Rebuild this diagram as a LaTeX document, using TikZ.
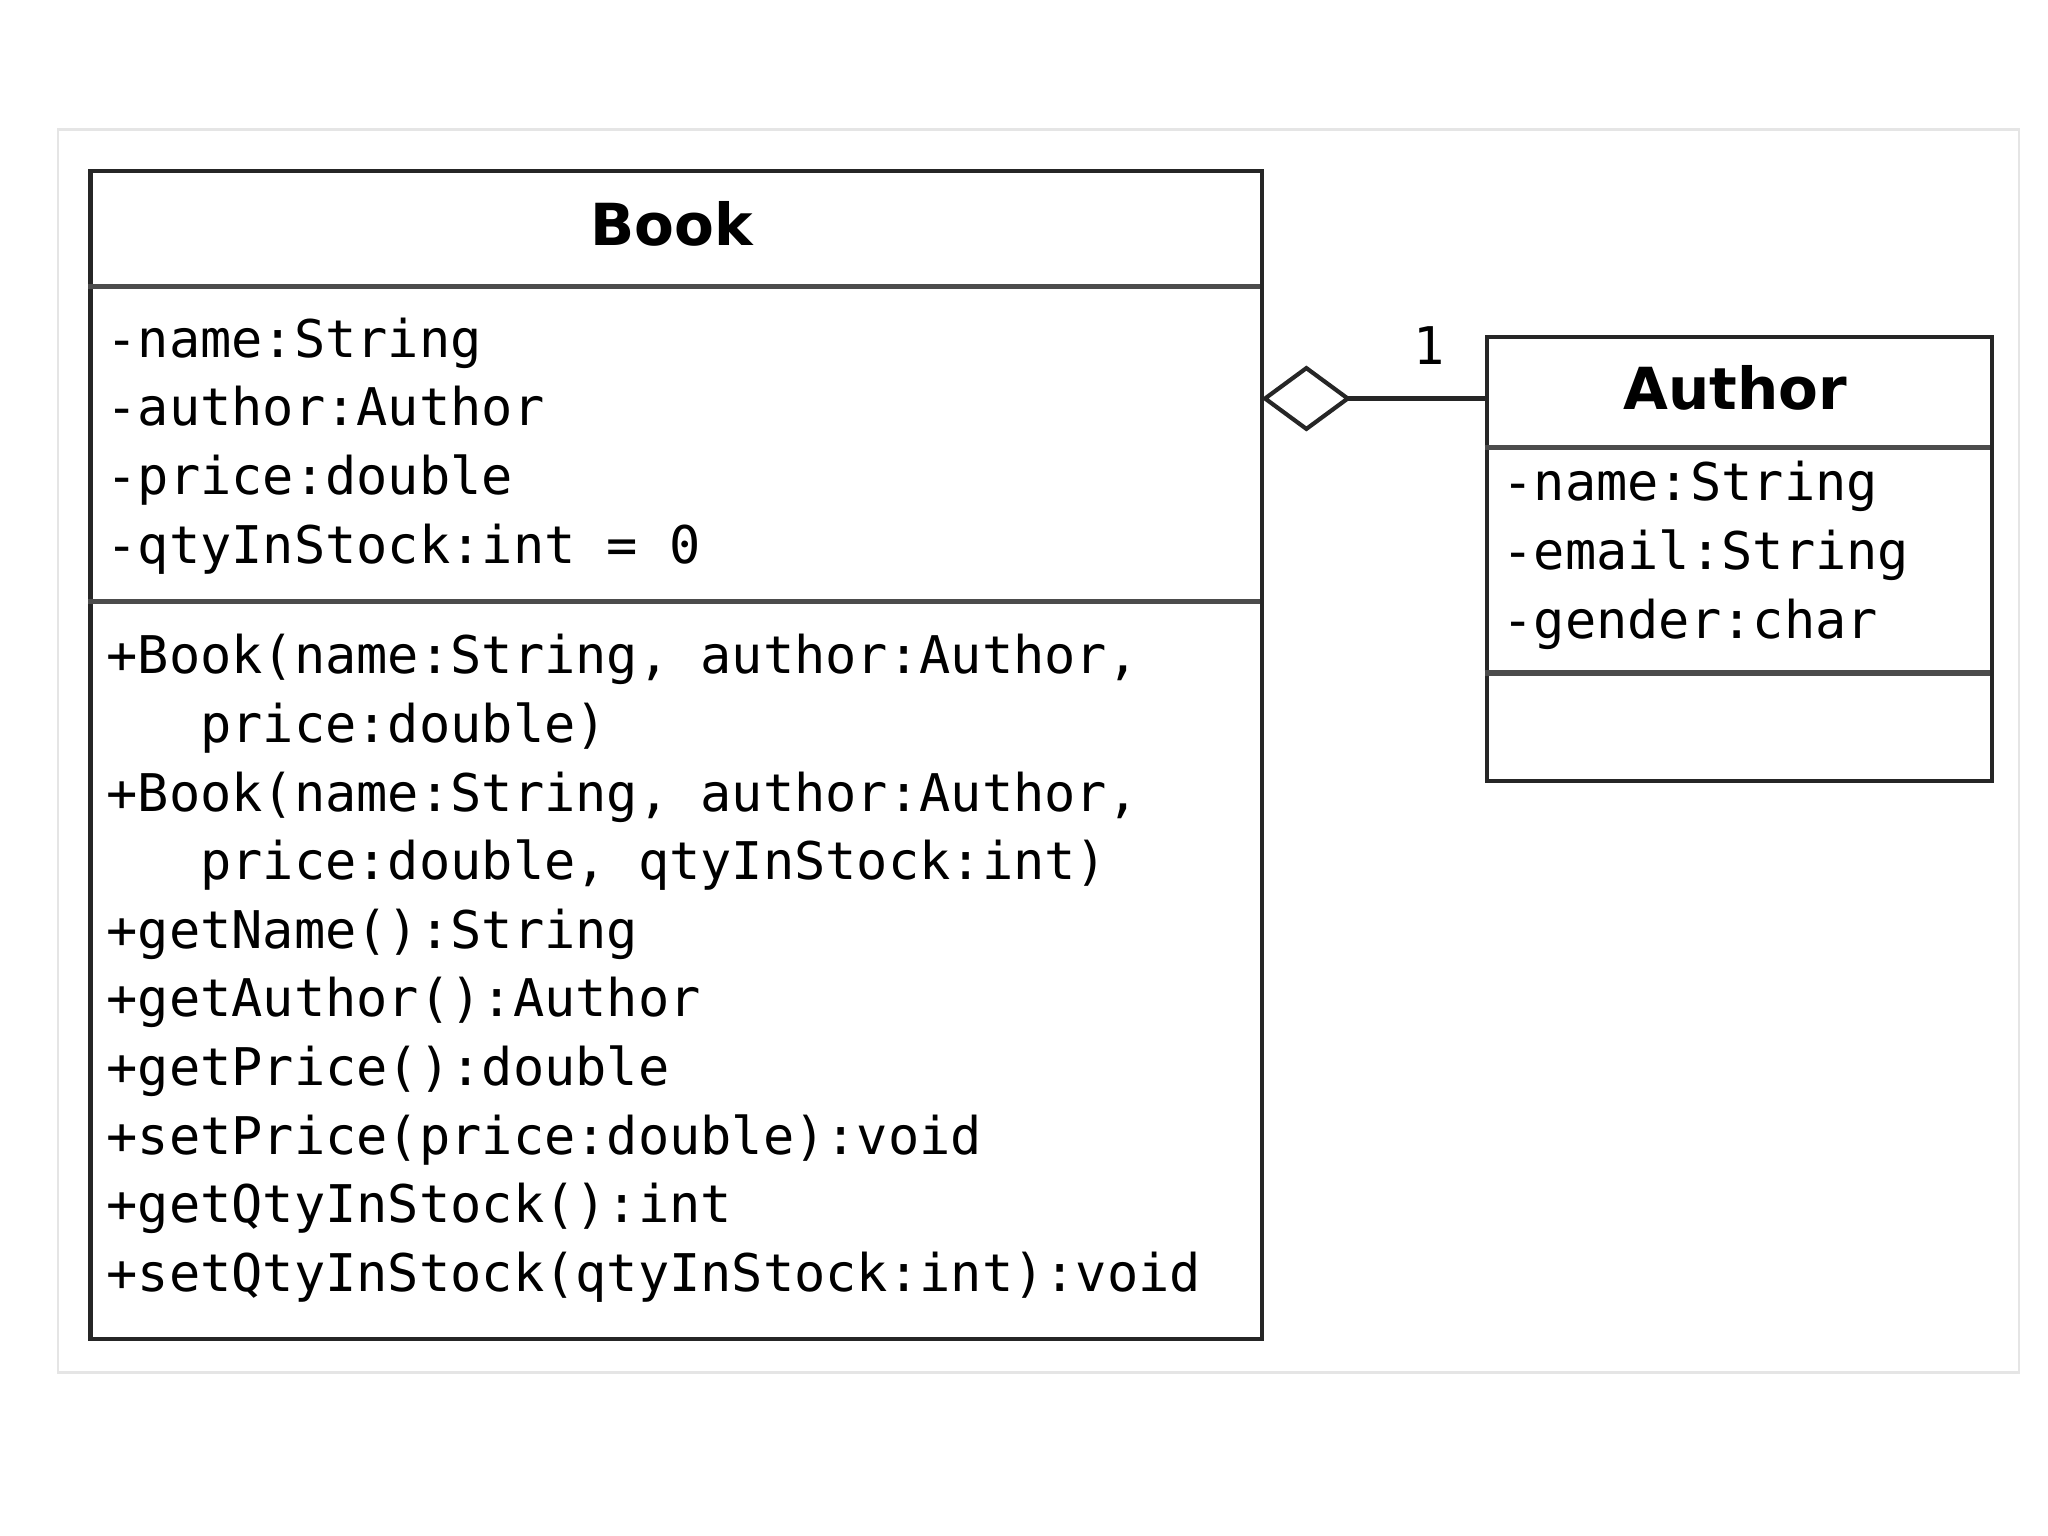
\documentclass[tikz,border=0pt]{standalone}
\usepackage{fontspec}
\setmainfont{DejaVu Sans}
\newfontfamily\umlmono{DejaVu Sans Mono}
\usetikzlibrary{arrows.meta}
\tikzset{
  umlbox/.style={draw=black!85, line width=0.9pt, rectangle, inner sep=0pt, anchor=north west},
  divider/.style={draw=black!70, line width=1.1pt},
  title/.style={font=\bfseries\fontsize{12.5}{15}\selectfont, anchor=base},
  member/.style={font=\umlmono\fontsize{11.2}{14.8}\selectfont, align=left, inner sep=0pt, anchor=north west},
}
\begin{document}
\begin{tikzpicture}
  \useasboundingbox[fill=white] (0,0) rectangle (15.52,-11.64);
  \draw[black!10, line width=0.6pt] (0.44,-0.98) rectangle (15.30,-10.40);
  % Book class
  \node[umlbox, minimum width=8.88cm, minimum height=8.85cm] (book) at (0.67,-1.28) {};
  \draw[divider] (0.67,-2.17) -- (9.55,-2.17);
  \draw[divider] (0.67,-4.56) -- (9.55,-4.56);
  \node[title] (booktitle) at (5.09,-1.86) {Book};
  \node[member] (bookattr) at (0.80,-2.40) {-name:String\\-author:Author\\-price:double\\-qtyInStock:int = 0};
  \node[member] (bookops) at (0.80,-4.80) {+Book(name:String, author:Author,\\
    \phantom{+Bo}price:double)\\
    +Book(name:String, author:Author,\\
    \phantom{+Bo}price:double, qtyInStock:int)\\
    +getName():String\\+getAuthor():Author\\+getPrice():double\\
    +setPrice(price:double):void\\+getQtyInStock():int\\
    +setQtyInStock(qtyInStock:int):void};
  % Author class
  \node[umlbox, minimum width=3.83cm, minimum height=3.36cm] (author) at (11.25,-2.54) {};
  \draw[divider] (11.25,-3.39) -- (15.08,-3.39);
  \draw[divider] (11.25,-5.10) -- (15.08,-5.10);
  \node[title] (authortitle) at (13.15,-3.10) {Author};
  \node[member] (authorattr) at (11.38,-3.49) {-name:String\\-email:String\\-gender:char};
  % aggregation
  \coordinate (aggR) at (11.25,-3.02);
  \coordinate (aggL) at (9.56,-3.02);
  \draw[black!85, line width=0.9pt, -{Diamond[open, length=6.8mm, width=5mm, line width=0.9pt]}] (aggR) -- (aggL);
  \node[font=\umlmono\fontsize{11.2}{14.8}\selectfont] (mult) at (10.83,-2.62) {1};
\end{tikzpicture}
\end{document}
